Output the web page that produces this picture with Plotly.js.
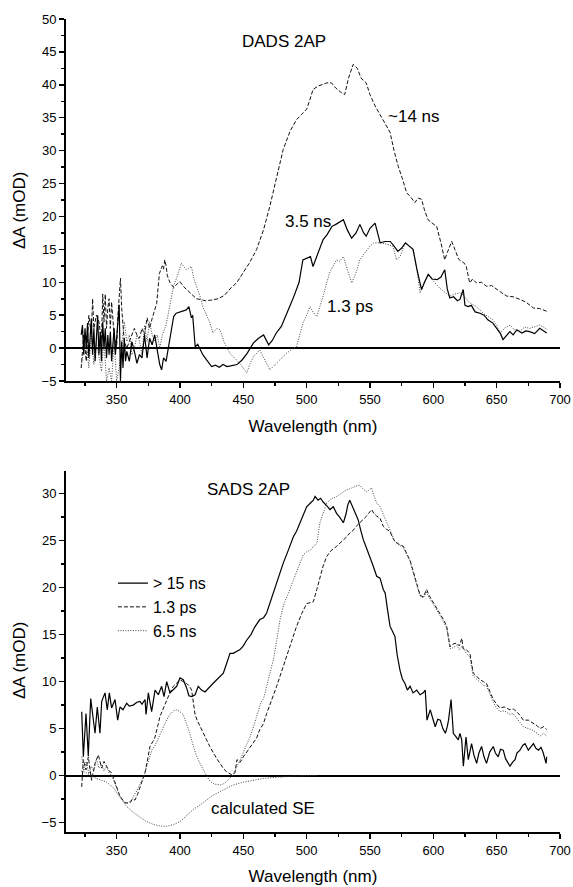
<!DOCTYPE html>
<html>
<head>
<meta charset="utf-8">
<script src="https://cdn.plot.ly/plotly-3.0.1.min.js"></script>
<style>
html,body{margin:0;padding:0;background:#fff;}
#chart{width:573px;height:887px;}
</style>
</head>
<body>
<div id="chart"></div>
<script>
// ---------- DATA: top panel (DADS 2AP), [wavelength nm, dA mOD] ----------
var dads_3p5ns = [[322,2],[323,3.5],[324,-1],[325,3],[326,0],[327,3.8],[328,-1.5],[329,2],[330,4.5],[331,-1],[332,3],[333,-2],[334,1.5],[335,5],[336,-1],[337,2.5],[338,-2],[339,4],[340,0],[341,3],[342,-1.5],[343,2],[344,-1],[345,2.5],[346,-2],[347,1],[348,3],[349,-1],[350,2],[351,4.5],[352,6.6],[353,-5],[354,1],[355,-3],[356,1.5],[357,-2],[358,-0.5],[360,-2],[362,1],[364,-0.5],[366,-2.3],[368,-1],[370,-1.5],[372,2],[374,-1.5],[376,1.5],[378,0.5],[380,2],[382,0],[384,-2.5],[385.5,-3.3],[387,-1.5],[389,-2],[391,0.2],[393,3],[395,4.8],[397,5.3],[400,5.5],[403,5.6],[405,5.8],[407,6.3],[409,4.6],[410,5],[412,0.2],[414,0.6],[416,-0.3],[418,-1],[421,-1.8],[425,-2.8],[428,-2.6],[431,-2.9],[434,-2.5],[437,-2.8],[440,-2.7],[445,-2.5],[449,-1.8],[453,-0.8],[458,0.8],[462,1.5],[466,2],[470,0.5],[473,1.2],[476,2.3],[480,3.3],[484,5.3],[487,6.5],[490,7.9],[494,10],[497,13.4],[500,13.6],[503,13.9],[505,12.4],[508,14],[511,15.5],[513,16.5],[516,17.2],[520,18.5],[523,18.8],[526,19.2],[529,19.5],[532,18],[535.5,16.7],[539,17.5],[542,18.8],[545,17.5],[547,17],[550,18.2],[554,19],[556,17.5],[558,16],[562,16.2],[566,16.2],[569,15.5],[572,14.7],[575,15.2],[578,16],[581,15.5],[584,15],[587,12],[590.7,8.9],[593,10],[596,11.2],[599,10.5],[603,10.4],[606,10.8],[609,11.9],[611,9],[613,7.6],[616,7.8],[619,7.2],[621,7.4],[623.6,8.9],[625,6.5],[627.6,6.3],[630,6.5],[633,5.5],[636.8,5.3],[640,5],[643,4.3],[647,3.8],[650,3],[653,2.2],[655,1.3],[658,2],[660.4,2.5],[663,2],[666,2.8],[670,2.3],[673,2.6],[676,2.5],[680,2.2],[684,3],[687,2.6],[689.5,2.3]];

var dads_14ns = [[322,-3],[324,2],[326,-2],[328,5],[330,2],[331,7.5],[332,3],[334,5],[336,4],[338,1],[339,8.2],[340,4],[341,8.2],[342,3],[343,6],[344,7.5],[345,3],[346,7],[348,2],[350,0],[351,5],[352,8],[353,10.6],[354,6],[355,3],[356,1],[358,0],[360,1],[362,2],[364,3],[366,2],[368,1.5],[370,3],[372,2],[374,4.6],[376,3],[378,4.5],[380,6],[381.6,6.8],[383.7,11.3],[386,12.5],[387,12],[388,13.4],[389,12.5],[390,11],[392,10],[395,9.2],[398,9.8],[400,10.1],[403,9.3],[406,8.8],[410,8],[413,7.5],[416,7.4],[420,7.2],[425,7.3],[430,7.5],[435,8],[439.5,9],[445,10],[450,11.5],[455,13],[460.5,15],[466,18],[471,21.6],[476,25.5],[481.5,30.2],[487,33],[492,34.7],[496,35.5],[500,36.3],[503,38],[505,39.3],[509,39.8],[513,40.1],[516,40.3],[519.6,40.3],[523,39.5],[527.5,38.8],[530,38.5],[533,41],[536.7,43.1],[540,42.5],[543,41],[547,40.3],[550,38.5],[554,36.8],[557.8,35.5],[561,34.5],[565.8,32.8],[569,30],[572.3,27.6],[576,25.5],[578.9,23.6],[582,23],[585.4,22.1],[588,22.8],[590.7,22.6],[593,21],[595.8,19.5],[599,19],[602.6,18.5],[606,16],[609,13.4],[611,14.5],[614.5,16.2],[617,15],[620,13.5],[622,13.2],[624,13],[626,12.4],[628.7,9.9],[631,10.5],[634,9.9],[638,10],[642,9.4],[646,9.5],[650,8.9],[654,8.4],[658,7.9],[663,7.8],[668.4,7.4],[673,7],[679,6.1],[684,6],[689.5,5.6]];

var dads_1p3ps = [[322,-3],[324,0],[326,1],[328,-3],[330,2],[332,-2.5],[334,1],[336,-1],[338,-3.5],[340,1],[342,-5],[344,-3],[346,-5],[348,1],[350,-5],[352,-3],[354,1],[356,4],[358,1],[360,2],[362,-1],[364,0],[366,2],[368,1],[370,-1],[372,3.5],[374,1],[376,4],[378,2],[380,1],[382,2],[384,0],[386,2],[388,3],[389,3.5],[392,6.5],[395,9.5],[398,11],[401,12.9],[405,11.9],[409,12.4],[411,10.5],[413,9.4],[415.8,7.9],[418,6.3],[421,5],[423.7,3.8],[426,2.3],[429,3],[431.6,2.8],[435,0.8],[439.5,-0.8],[444.8,-1.8],[448,-2.5],[452.7,-3.8],[455,-2.5],[458,-1.3],[463,-0.3],[467,-1.8],[471,-3.3],[475,-2.5],[479,-1.8],[484,-0.8],[489.5,0],[492,0.2],[497,3.8],[500,5],[502.6,6.3],[505,5.5],[508,4.8],[513,7.9],[518,11.4],[523.6,13.4],[526,13.2],[529,13.9],[532,12],[535.6,9.9],[539,11.5],[542,13.4],[546,14.5],[550,15.5],[553,16],[558,16],[563,15.8],[568,15.5],[571,13.4],[574,14],[577.6,16],[581,15.5],[584,15],[587,12],[589.5,8.4],[593,10],[596,11.2],[600,10.2],[605,9.1],[609,8.5],[613,7.9],[617,8.2],[621,8.4],[624,8],[628,7],[634,6.3],[640,5.2],[647,4.3],[650,3.5],[652.6,2.3],[656,3],[660.5,3.5],[664,2.8],[668,2.5],[672,3.2],[676,3],[680,3.2],[684,3.5],[687,3.2],[689.5,2.8]];

// ---------- DATA: bottom panel (SADS 2AP) ----------
var sads_gt15ns = [[322.4,6.8],[323.7,2],[325.8,6.6],[327.6,2.1],[329.5,8.2],[331.5,6.3],[332.9,4.5],[334.7,7.3],[336.8,4.5],[338.2,7.9],[340.8,8.8],[342.6,7],[344.2,8.8],[346,7.2],[348.7,8.1],[350.8,5.9],[352.6,7.3],[355,7],[357.9,7.7],[360,7.4],[363.1,7.5],[366,7.8],[368.4,7.9],[370,7.6],[372.4,8.1],[373.2,6.5],[375,8.8],[377.6,6.8],[380.3,9.1],[382.9,8.6],[385.5,9.5],[387.4,8.4],[389.5,10],[392.1,8.8],[394.7,9.1],[397.4,9.5],[400,10.4],[402.6,10.2],[405.3,9.3],[407,8.5],[409.2,8.4],[411.9,8.6],[414.4,9.5],[417,9.1],[419.7,8.9],[422.3,9.3],[426,9.8],[429,10.2],[431.6,10.5],[434.2,10.9],[437,12],[439.5,13],[442,13],[445,13.2],[447.4,13.4],[450,13.8],[452.6,14.4],[456,15],[459,15.8],[463,16.6],[466,16.8],[468.4,17.3],[472,18.8],[476.3,20.5],[479,21.5],[481.5,22.6],[485,23.8],[489.5,25.4],[492,26],[494.8,26.9],[497,27.5],[500,28.6],[503,29],[505.3,29.3],[506.6,29.7],[509,29.3],[511,29.5],[513,29.1],[516,28.7],[518.4,28.3],[521,28.6],[523.6,27.9],[526,27.5],[529,26.9],[531,27.8],[532.5,28.8],[534,29.3],[535.5,28.8],[536.8,28.3],[538.5,27.8],[540.7,27.2],[542.5,26.2],[544.7,25.1],[547,24.3],[550,23.3],[552.5,22.3],[555.3,21.2],[557.9,21],[560.5,19.8],[562,19.4],[564,17.5],[565.8,15.9],[569.7,14.8],[571.5,12.8],[573.7,11.2],[575.5,10.3],[577.6,9.8],[579.5,9.1],[581.6,9.5],[584,8.8],[586.9,9.1],[589.5,8.6],[592,8.8],[593.6,9.1],[595,5.9],[596.3,6.5],[597.6,7],[599.5,6.1],[601.5,5.2],[603.5,6],[605.5,5.9],[607.5,5],[609.5,4.5],[611,5.2],[612,5.9],[614,8.1],[615.8,4.5],[617.5,4.2],[619.7,3.8],[621,4.5],[622.4,3.8],[623.7,1],[625,3],[625.8,4.1],[627.6,1.7],[630.2,3.4],[632,2.2],[634.2,1.3],[636,2.4],[638.1,3.1],[640,2],[642,1.3],[644.5,2.5],[647.3,3.1],[649,2.4],[651.2,2],[653,2.8],[655.2,2.7],[657,1.8],[660.5,1],[662.5,1.4],[664.5,1.7],[666,2.4],[668.4,2.7],[670.5,3.2],[672.4,3.4],[675,2.7],[677,3],[679,3.4],[681,2.9],[683,2.7],[685,3],[686.8,2.4],[689,1.3],[689.5,2]];

var sads_1p3ps = [[322.4,-1.2],[323.7,1.7],[325.8,0.6],[327.6,2],[330.2,-0.5],[332.9,1.3],[335.5,2.2],[338.2,0.8],[340,1.5],[342,1],[344,0.5],[346,0.3],[348.7,-0.8],[350.6,-1.5],[352.6,-2.2],[356.6,-2.9],[360.5,-2.9],[362.5,-2.5],[364.5,-2.6],[366.5,-2],[368.4,-1.2],[370.5,-0.4],[372.4,0.3],[374.5,1.8],[376.3,3.1],[378.5,3.6],[380.3,4.1],[382.3,5.2],[384.2,6.3],[387,7.2],[389.5,8.1],[392,8.8],[394.7,9.5],[397.5,9.9],[400,10.2],[402.5,10],[405.3,9.8],[407.5,9.5],[409.2,9.1],[410.5,7.8],[411.9,6.5],[413.5,5.9],[415.8,5.2],[418.5,4.5],[421,3.8],[423.5,3.1],[426.3,2.4],[429,1.8],[431.6,1.3],[434,0.8],[436.8,0.4],[440.8,0.1],[443.4,0.3],[445,1.7],[447.4,1.4],[450,2],[455.3,3],[460.5,4],[463,4.9],[465.8,5.5],[468.4,6.6],[471,7.5],[474,8.5],[476.3,9.5],[480,11],[484.2,12.7],[488,14.3],[492.1,15.9],[496,17.2],[500,18.3],[503,18.4],[505.3,18.5],[508,19.8],[510.5,21.2],[513,22.3],[515.8,23.3],[519,23.9],[523.7,24.4],[527,24.8],[531.6,25.4],[534,25.8],[536.8,26.1],[539,26.5],[542,26.9],[545,27.2],[547.3,27.6],[549,27.9],[551.3,28.3],[553,27.9],[555.3,27.6],[557.9,27.4],[560.5,26.5],[563,26.2],[565.8,26],[567.5,25.4],[569.7,24.9],[573,24.6],[576.3,24.4],[579,23.6],[581.6,22.9],[584,21.8],[586.9,20.5],[589.5,19.2],[592,19],[594.7,19.8],[596.5,19.2],[598.7,18.7],[602,18],[605.3,17.3],[608,16.6],[610.5,15.9],[613.2,13.7],[615.5,14],[618.4,14.1],[620.5,13.8],[622.5,14.6],[623.5,13.5],[626,13.4],[628.9,13],[630,12],[631.5,10.9],[634,10.6],[636.8,10.2],[639.5,10],[642,9.8],[644.5,9],[647.3,8.1],[650,7.6],[652.6,7.2],[656,7.3],[660.5,7],[663,7.1],[665.8,6.8],[668.5,6.4],[671,5.9],[675,5.9],[679,5.6],[682,5.3],[684.2,5],[687,5.2],[689.5,4.9]];

var sads_6p5ns = [[322.4,2],[324,0.5],[326,1.5],[328,0.2],[330,1],[332,0.5],[334,1.8],[336,0.8],[338,1.2],[340,0.5],[342,1],[344,0.3],[346,0],[348,-0.6],[350,-1.3],[352,-2],[354,-2.5],[356,-2.8],[358,-3],[360,-2.8],[362,-2.5],[364,-2],[366,-1.6],[368,-1],[370,-0.5],[372,0.2],[374,1],[376,2],[378,2.8],[380.3,3.2],[383,4],[386,5],[389,5.8],[392,6.5],[395,6.9],[397.4,7],[400,6.8],[402.5,6.5],[405,5.6],[407.5,4.6],[410,3.4],[412.5,2.3],[415,1.5],[417.5,0.8],[420,0.2],[423.6,-0.6],[427,-0.9],[431.6,-1],[434,-0.9],[437,-0.6],[440,-0.2],[442,0.1],[445,1],[448,1.8],[451,2.8],[455.3,4.1],[458,5.2],[461,6.5],[464,7.8],[466,8.2],[468.4,9.5],[471,10.8],[474,12.5],[476.5,14.5],[479,16.6],[482,18.3],[485,19.2],[489.5,20.8],[493,22],[497.4,23.5],[500,23.8],[503,24],[505,24.3],[508,24.7],[510.5,26.9],[513,28],[515.8,29],[519,29.4],[523.7,29.7],[527,30],[531.6,30.4],[534,30.5],[536.8,30.7],[539,30.8],[542,30.9],[544.5,30.5],[547.3,30.2],[549,30.4],[551.3,30.6],[553,29.8],[555.3,29],[558,28.6],[560.5,27.8],[563.2,26.9],[565.8,26.1],[567.5,25.5],[569.7,24.9],[573,24.5],[576.3,24.3],[579,23.5],[581.6,22.8],[584,21.6],[586.9,20.4],[589.5,19.1],[592,18.9],[594.7,19.5],[596.5,19],[598.7,18.5],[602,17.8],[605.3,17.1],[608,16.4],[610.5,15.7],[613.2,13.5],[615.5,13.6],[618.4,13.9],[620.5,13.4],[623,13.8],[626,13],[628.9,12.6],[631.5,10.6],[634,10.3],[636.8,10],[639.5,9.6],[642,9.5],[644.5,8.7],[647.3,7.8],[650,7.2],[652.6,6.8],[656,6.9],[660.5,6.5],[663,6.6],[665.8,6.1],[668.5,5.7],[671,5.2],[675,5],[679,4.8],[682,4.5],[684.2,4.2],[687,4.5],[689.5,4.2]];

var sads_calcSE = [[322,0.5],[326,0.3],[330,0],[334,-0.3],[338,-0.5],[342,-0.7],[345,-1],[348,-1.4],[351,-2],[354,-2.6],[358,-3.3],[363,-3.9],[368,-4.4],[373,-4.85],[379,-5.2],[384,-5.35],[389.5,-5.4],[395,-5.2],[400,-4.9],[405,-4.3],[410.5,-3.6],[416,-3.1],[421,-2.6],[426,-2.1],[431.6,-1.7],[437,-1.3],[442,-1],[450,-0.7],[458,-0.5],[466,-0.3],[474,-0.2],[482,-0.1],[490,-0.05],[500,0],[508,0]];

var legendNames = ["> 15 ns", "1.3 ps", "6.5 ns"];
var xTicks = [350, 400, 450, 500, 550, 600, 650, 700];

// ---------- BUILD ----------
var FONT = "Liberation Sans, Arial, Helvetica, sans-serif";
function xs(a){return a.map(function(p){return p[0];});}
function ys(a){return a.map(function(p){return p[1];});}

var SOLID = {color:'#000', width:1.2, dash:'solid'};
var DASHED = {color:'#111', width:1, dash:'4px,2px'};
var DOTTED = {color:'#444', width:1, dash:'1px,1.5px'};

function tr(arr, line, xa, ya, name, showleg){
  return {type:'scatter', mode:'lines', x:xs(arr), y:ys(arr), xaxis:xa, yaxis:ya,
          line:line, name:name||'', showlegend:!!showleg, hoverinfo:'skip'};
}

var data = [
  tr(dads_14ns, DASHED, 'x', 'y'),
  tr(dads_1p3ps, DOTTED, 'x', 'y'),
  tr(dads_3p5ns, SOLID, 'x', 'y'),
  tr(sads_gt15ns, SOLID, 'x2', 'y2', legendNames[0], true),
  tr(sads_1p3ps, DASHED, 'x2', 'y2', legendNames[1], true),
  tr(sads_6p5ns, DOTTED, 'x2', 'y2', legendNames[2], true),
  tr(sads_calcSE, DOTTED, 'x2', 'y2')
];

function xax(anchor){
  return {anchor:anchor, domain:[0,1], range:[310,700], tickvals:xTicks,
    showline:true, linecolor:'#000', linewidth:2, mirror:false, showgrid:false, zeroline:false,
    ticks:'outside', ticklen:5, tickwidth:1.5, tickcolor:'#000',
    minor:{dtick:25, tick0:300, ticks:'outside', ticklen:3, tickwidth:1.5, tickcolor:'#000', showgrid:false},
    tickfont:{family:FONT, size:13, color:'#000'},
    title:{text:'Wavelength (nm)', font:{family:FONT, size:17, color:'#000'}, standoff:14},
    automargin:false};
}
function yax(anchor, domain, range, dtick){
  return {anchor:anchor, domain:domain, range:range, dtick:dtick, tick0:0,
    showline:true, linecolor:'#000', linewidth:2, showgrid:false,
    zeroline:true, zerolinecolor:'#000', zerolinewidth:2,
    ticks:'outside', ticklen:5, tickwidth:1.5, tickcolor:'#000',
    minor:{dtick:dtick/2, tick0:0, ticks:'outside', ticklen:3, tickwidth:1.5, tickcolor:'#000', showgrid:false},
    tickfont:{family:FONT, size:13, color:'#000'},
    automargin:false};
}

var AF = {family:FONT, size:17, color:'#000'};
function ann(text, x, y, xref, yref){
  return {text:text, x:x, y:y, xref:xref, yref:yref, xanchor:'left', yanchor:'middle', showarrow:false, font:AF};
}
function ytitle(y){
  return {text:'\u0394A (mOD)', x:-0.0951, y:y, xref:'paper', yref:'paper', xanchor:'center', yanchor:'middle',
          textangle:-90, showarrow:false, font:AF};
}

var layout = {
  width:573, height:887,
  margin:{l:66, r:13, t:19, b:55},
  paper_bgcolor:'#fff', plot_bgcolor:'#fff',
  font:{family:FONT, color:'#000'},
  xaxis: xax('y'),
  yaxis: yax('x', [0.5547, 1], [-5, 50], 5),
  xaxis2: xax('y2'),
  yaxis2: yax('x2', [0, 0.444], [-6, 32.4], 5),
  showlegend:true,
  legend:{x:0.095, y:0.327, xanchor:'left', yanchor:'top', bgcolor:'rgba(0,0,0,0)',
          font:{family:FONT, size:16, color:'#000'}, tracegroupgap:0, itemclick:false},
  annotations:[
    ytitle(0.7638),
    ytitle(0.2103),
    ann('DADS 2AP', 447.4, 46.6, 'x', 'y'),
    ann('~14 ns', 562.8, 35.2, 'x', 'y'),
    ann('3.5 ns', 481.6, 19.3, 'x', 'y'),
    ann('1.3 ps', 514.5, 6.3, 'x', 'y'),
    ann('SADS 2AP', 419.7, 30.4, 'x2', 'y2'),
    ann('calculated SE', 423.1, -3.47, 'x2', 'y2')
  ]
};

Plotly.newPlot('chart', data, layout, {staticPlot:true, displayModeBar:false});
</script>
</body>
</html>
